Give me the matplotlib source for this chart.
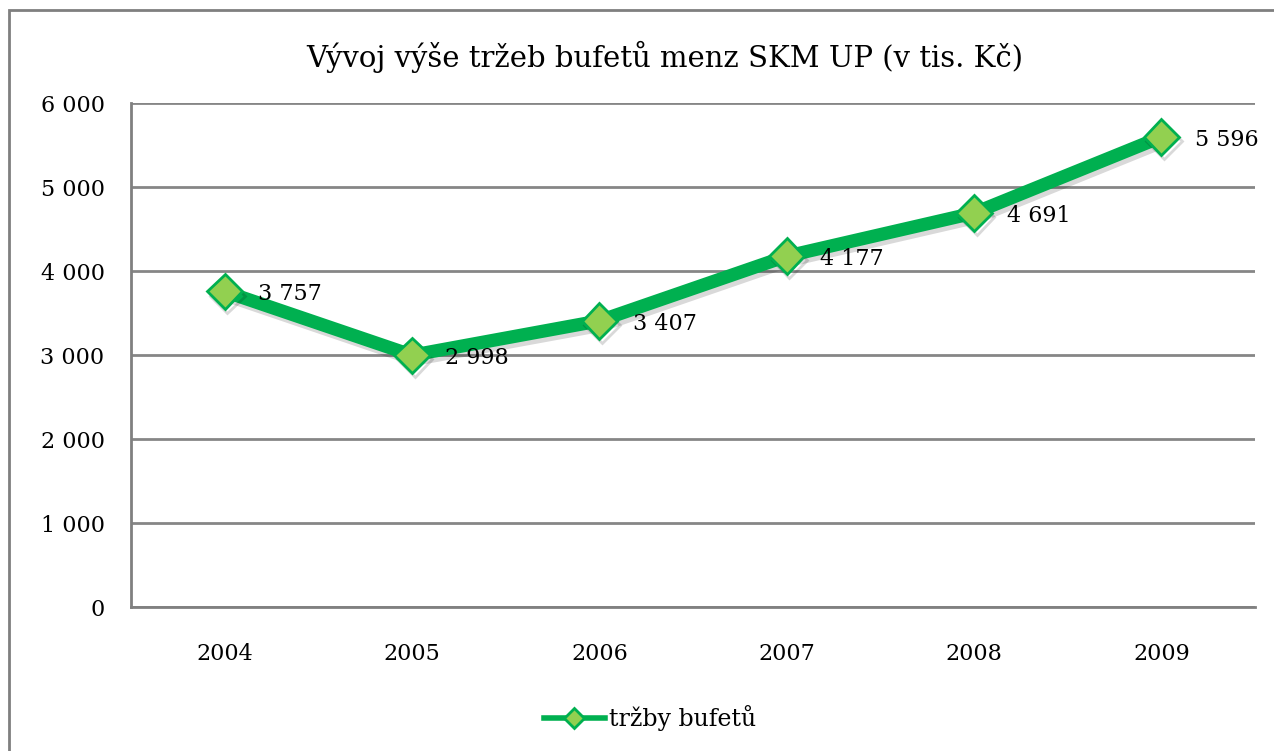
import matplotlib.pyplot as plt
import matplotlib.patheffects as pe
from matplotlib.patches import Rectangle
from matplotlib.ticker import FuncFormatter

roky = ['2004', '2005', '2006', '2007', '2008', '2009']
trzby = [3757, 2998, 3407, 4177, 4691, 5596]

plt.rcParams['font.family'] = ['DejaVu Serif']

fig = plt.figure(figsize=(12.74, 7.51), dpi=100)
ax = fig.add_axes([0.1028, 0.1917, 0.8823, 0.6711])

# ramecek okolo grafu
fig.patches.append(Rectangle((9 / 1274, -0.1), 1.2, 1 - 10 / 751 + 0.1,
                             transform=fig.transFigure, fill=False,
                             edgecolor='#7f7f7f', linewidth=2))

x = list(range(len(roky)))
ax.plot(x, trzby, color='#00B050', linewidth=9.5, marker='D', markersize=18,
        markerfacecolor='#92D050', markeredgecolor='#00B050', markeredgewidth=2,
        label='tržby bufetů', zorder=3,
        path_effects=[pe.SimpleLineShadow(offset=(2, -3), alpha=0.15), pe.Normal()])

for xi, v in zip(x, trzby):
    txt = f'{v:,}'.replace(',', ' ')
    ax.annotate(txt, (xi, v), xytext=(24, -2), textcoords='offset points',
                ha='left', va='center', fontsize=16, color='black', zorder=4)

ax.set_xlim(-0.5, 5.5)
ax.set_ylim(0, 6000)
ax.set_yticks(range(0, 6001, 1000))
ax.yaxis.set_major_formatter(FuncFormatter(lambda v, p: f'{int(v):,}'.replace(',', ' ')))
ax.set_xticks(x)
ax.set_xticklabels(roky)
ax.tick_params(length=0, labelsize=16)
ax.tick_params(axis='x', pad=26)
ax.tick_params(axis='y', pad=19)

ax.grid(axis='y', color='#868686', linewidth=2)
ax.set_axisbelow(True)
for s in ['top', 'right']:
    ax.spines[s].set_visible(False)
for s in ['left', 'bottom']:
    ax.spines[s].set_color('#808080')
    ax.spines[s].set_linewidth(2)

fig.text(0.522, 0.924, 'Vývoj výše tržeb bufetů menz SKM UP (v tis. Kč)',
         ha='center', va='center', fontsize=21)

leg = fig.legend(loc='center', bbox_to_anchor=(0.51, 0.044), frameon=False,
                 fontsize=17, handlelength=2.6, handletextpad=0.15)
for h in leg.legend_handles:
    h.set_linewidth(4)
    h.set_markersize(10)
    h.set_path_effects([])

fig.savefig('out.png', dpi=100)
